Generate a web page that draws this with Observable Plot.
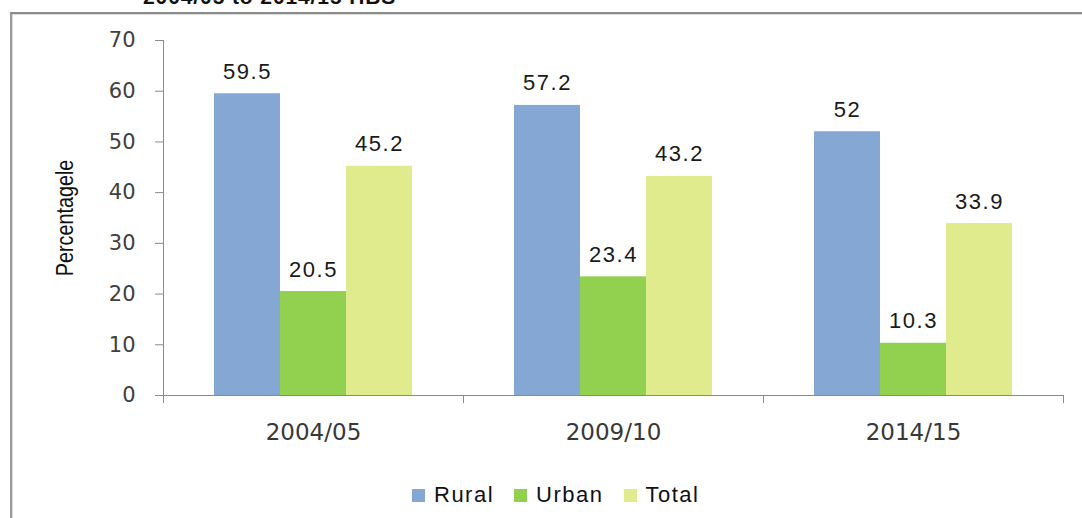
<!DOCTYPE html>
<html>
<head>
<meta charset="utf-8">
<script src="https://cdn.jsdelivr.net/npm/d3@7"></script>
<script src="https://cdn.jsdelivr.net/npm/@observablehq/plot@0.6"></script>
<style>
  html, body { margin: 0; padding: 0; background: #fff; }
  body { width: 1082px; height: 518px; position: relative; overflow: hidden; font-family: "Liberation Sans", Arial, sans-serif; }
  #title { position: absolute; left: 143px; top: -14px; font-weight: bold; font-size: 21px; line-height: 21px; letter-spacing: 0.9px; color: #111; white-space: nowrap; }
  #box { position: absolute; left: 10px; top: 12px; width: 1100px; height: 560px; border-top: 2px solid #8c8c8c; border-left: 2px solid #9a9a9a; box-shadow: inset 1px 1px 0 #dcdcdc; }
  #chart { position: absolute; left: 0; top: 0; }
  #ylabel { position: absolute; left: 65px; top: 218px; transform: translate(-50%, -50%) rotate(-90deg) scaleX(0.86); font-size: 23px; color: #111; white-space: nowrap; }
  #legend { position: absolute; left: 412px; top: 482px; display: flex; align-items: center; font-size: 22px; letter-spacing: 1.5px; color: #111; }
  #legend .item { display: flex; align-items: center; margin-right: 20px; }
  #legend .sw { width: 13px; height: 13px; margin-right: 9px; }
  g[aria-label="text"] text { letter-spacing: 1.5px; }
</style>
</head>
<body>
<div id="title">2004/05 to 2014/15 HBS</div>
<div id="box"></div>
<div id="chart"></div>
<div id="ylabel">Percentagele</div>
<div id="legend"></div>
<script>
const periods = ["2004/05", "2009/10", "2014/15"];
const series = ["Rural", "Urban", "Total"];
const rural = [59.5, 57.2, 52];
const urban = [20.5, 23.4, 10.3];
const total = [45.2, 43.2, 33.9];
const yTicks = [0, 10, 20, 30, 40, 50, 60, 70];
const colors = ["#84a7d4", "#92d050", "#dfeb8c"];

const values = {Rural: rural, Urban: urban, Total: total};
const data = periods.flatMap((p, i) => series.map(s => ({period: p, series: s, value: values[s][i]})));

const W = 1082, H = 460, ML = 163, MR = 19, MT = 40, MB = 65;
const halfBand = (W - ML - MR) / periods.length / 2;

const chart = Plot.plot({
  width: W,
  height: H,
  marginLeft: ML,
  marginRight: MR,
  marginTop: MT,
  marginBottom: MB,
  style: {background: "transparent", overflow: "visible"},
  fx: {domain: periods, padding: 0, label: null},
  x: {domain: series, paddingInner: 0, paddingOuter: 0.75, axis: null},
  y: {domain: [0, 70], label: null},
  color: {domain: series, range: colors},
  marks: [
    Plot.axisY({ticks: yTicks, tickSize: 8, tickPadding: 20, fontSize: 21, fontFamily: "DejaVu Sans", stroke: "#8a8a8a", fill: "#404040", label: null}),
    Plot.frame({anchor: "left", facetAnchor: "left", stroke: "#8a8a8a"}),
    Plot.ruleY([0], {stroke: "#8a8a8a"}),
    Plot.axisFx({anchor: "bottom", tickSize: 0, tickPadding: 28, fontSize: 23, fontFamily: "DejaVu Sans", fill: "#383838", label: null}),
    Plot.axisFx({anchor: "bottom", tickSize: 8, dx: -halfBand, tickFormat: () => "", stroke: "#8a8a8a", label: null}),
    Plot.axisFx({anchor: "bottom", tickSize: 8, dx: halfBand, tickFormat: () => "", stroke: "#8a8a8a", label: null}),
    Plot.barY(data, {fx: "period", x: "series", y: "value", fill: "series"}),
    Plot.text(data, {fx: "period", x: "series", y: "value", text: d => String(d.value), lineAnchor: "bottom", dy: -15, fontSize: 22, fontFamily: "Liberation Sans", fill: "#1a1a1a"})
  ]
});
document.getElementById("chart").appendChild(chart);

const legend = document.getElementById("legend");
series.forEach((s, i) => {
  const item = document.createElement("div");
  item.className = "item";
  const sw = document.createElement("div");
  sw.className = "sw";
  sw.style.background = colors[i];
  const label = document.createElement("span");
  label.textContent = s;
  item.appendChild(sw);
  item.appendChild(label);
  legend.appendChild(item);
});
</script>
</body>
</html>
